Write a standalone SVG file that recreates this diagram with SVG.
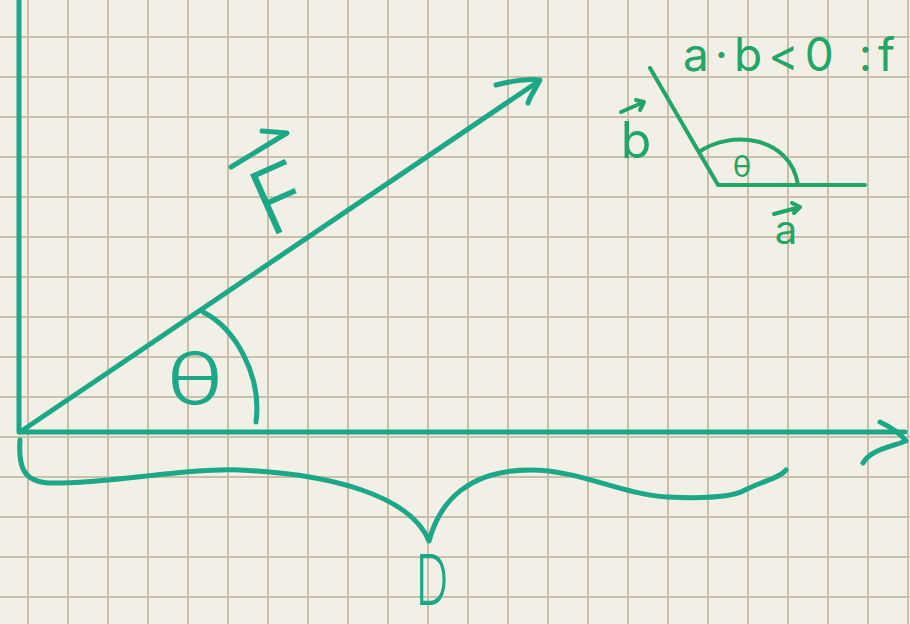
<svg xmlns="http://www.w3.org/2000/svg" width="910" height="624" viewBox="0 0 910 624">
<defs>
<style>
.grid line{stroke:#c9bfad;stroke-width:2}
.ink{fill:none;stroke:#1ca887;stroke-width:5;stroke-linecap:round;stroke-linejoin:round}
.ink2{fill:none;stroke:#22a566;stroke-width:4;stroke-linecap:round;stroke-linejoin:round}
.t{font-family:Inter,"Liberation Sans",sans-serif;font-weight:300;fill:#1ca887}
.t2{font-family:Inter,"Liberation Sans",sans-serif;font-weight:400;fill:#22a566}
</style>
</defs>
<rect width="910" height="624" fill="#f1efe6"/>
<g class="grid">
<line x1="28" y1="0" x2="28" y2="624"/><line x1="68" y1="0" x2="68" y2="624"/><line x1="108" y1="0" x2="108" y2="624"/><line x1="148" y1="0" x2="148" y2="624"/><line x1="188" y1="0" x2="188" y2="624"/><line x1="228" y1="0" x2="228" y2="624"/><line x1="268" y1="0" x2="268" y2="624"/><line x1="308" y1="0" x2="308" y2="624"/><line x1="348" y1="0" x2="348" y2="624"/><line x1="388" y1="0" x2="388" y2="624"/><line x1="428" y1="0" x2="428" y2="624"/><line x1="468" y1="0" x2="468" y2="624"/><line x1="508" y1="0" x2="508" y2="624"/><line x1="548" y1="0" x2="548" y2="624"/><line x1="588" y1="0" x2="588" y2="624"/><line x1="628" y1="0" x2="628" y2="624"/><line x1="668" y1="0" x2="668" y2="624"/><line x1="708" y1="0" x2="708" y2="624"/><line x1="748" y1="0" x2="748" y2="624"/><line x1="788" y1="0" x2="788" y2="624"/><line x1="828" y1="0" x2="828" y2="624"/><line x1="868" y1="0" x2="868" y2="624"/><line x1="908" y1="0" x2="908" y2="624"/>
<line x1="0" y1="37" x2="910" y2="37"/><line x1="0" y1="77" x2="910" y2="77"/><line x1="0" y1="117" x2="910" y2="117"/><line x1="0" y1="157" x2="910" y2="157"/><line x1="0" y1="197" x2="910" y2="197"/><line x1="0" y1="237" x2="910" y2="237"/><line x1="0" y1="277" x2="910" y2="277"/><line x1="0" y1="317" x2="910" y2="317"/><line x1="0" y1="357" x2="910" y2="357"/><line x1="0" y1="397" x2="910" y2="397"/><line x1="0" y1="437" x2="910" y2="437"/><line x1="0" y1="477" x2="910" y2="477"/><line x1="0" y1="517" x2="910" y2="517"/><line x1="0" y1="557" x2="910" y2="557"/><line x1="0" y1="597" x2="910" y2="597"/>
</g>
<g id="axes">
<path class="ink" d="M19,0 L19,432 L905,432"/>
<path class="ink" d="M880,422 C893,428 900,433 906,441 C890,447 870,450 863,463"/>
</g>
<g id="vector-F">
<path class="ink" d="M20,432 L539,81"/>
<path class="ink" d="M496,85 C515,80 530,79 540,80 C535,90 530,96 528,103"/>
<path class="ink" d="M262,131 L287,133 L231,167"/>
<text class="t" font-size="90" transform="translate(277,234) rotate(-24)" x="-9" y="0">F</text>
</g>
<g id="angle">
<path class="ink" d="M203,312 C235,328 262,375 256,422"/>
<text class="t" font-size="72" transform="translate(195,404) scale(1.3,1)" x="0" y="0" text-anchor="middle">θ</text>
</g>
<g id="brace">
<path class="ink" d="M20,440 C18,468 24,482 50,483 C110,484 180,468 240,470 C330,474 410,495 429,541 C440,500 470,470 530,470 C580,470 620,494 667,497 C710,499 735,496 745,490 C765,480 780,478 786,470"/>
<text class="t" font-size="70" transform="translate(432,605) scale(0.65,1)" x="0" y="0" text-anchor="middle">D</text>
</g>
<g id="inset">
<text class="t2" font-size="46" x="683" y="71" letter-spacing="6">a·b&lt;0 :f</text>
<path class="ink2" d="M650,68 L718,185 L865,185"/>
<path class="ink2" d="M699,152 C730,130 790,135 798,185"/>
<text class="t2" font-size="30" x="742" y="177" text-anchor="middle">θ</text>
<text class="t2" font-size="50" x="636" y="158" text-anchor="middle">b</text>
<path class="ink2" d="M621,112 L644,102 M636,100 L644,102 L640,110"/>
<text class="t2" font-size="40" x="786" y="244" text-anchor="middle">a</text>
<path class="ink2" d="M774,214 L800,207 M792,203 L800,207 L794,213"/>
</g>
</svg>
